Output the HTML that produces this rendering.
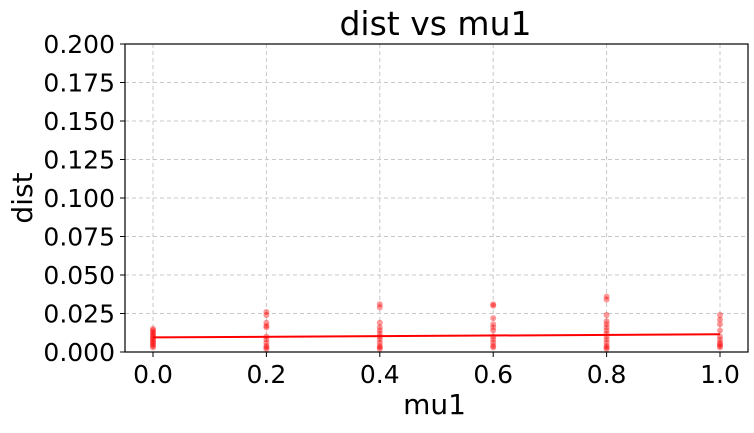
<!DOCTYPE html>
<html><head><meta charset="utf-8"><style>
body{margin:0;background:#fff;font-family:"DejaVu Sans","Liberation Sans",sans-serif}
</style></head><body>
<svg id="c" width="754" height="429" xmlns="http://www.w3.org/2000/svg" style="font-family:'DejaVu Sans','Liberation Sans',sans-serif">
</svg>
<script>
const xTicks=[0,0.2,0.4,0.6,0.8,1.0];
const xTickLabels=["0.0","0.2","0.4","0.6","0.8","1.0"];
const yTicks=[0,0.025,0.05,0.075,0.1,0.125,0.15,0.175,0.2];
const yTickLabels=["0.000","0.025","0.050","0.075","0.100","0.125","0.150","0.175","0.200"];
const groupX=[0,0.2,0.4,0.6,0.8,1.0];
const groupVals=[
 [0.015,0.014,0.013,0.012,0.011,0.010,0.009,0.008,0.007,0.006,0.005,0.004,0.003],
 [0.026,0.024,0.019,0.017,0.016,0.010,0.008,0.006,0.004,0.003,0.002],
 [0.031,0.029,0.019,0.016,0.014,0.012,0.010,0.008,0.006,0.004,0.003,0.002],
 [0.031,0.030,0.022,0.018,0.016,0.014,0.010,0.008,0.006,0.004,0.003],
 [0.036,0.034,0.024,0.020,0.018,0.016,0.014,0.012,0.010,0.008,0.006,0.004,0.003,0.002],
 [0.024,0.021,0.018,0.014,0.010,0.008,0.006,0.005,0.004,0.003]
];
const fitX=[0,1];
const fitY=[0.0095,0.0115];
const L=125,R=748,T=44,B=352;
const sx=v=>153+v*(720-153);
const sy=v=>B-(v/0.2)*(B-T);
const svg=document.getElementById('c');
const NS="http://www.w3.org/2000/svg";
function mk(t,a,txt){const e=document.createElementNS(NS,t);for(const k in a)e.setAttribute(k,a[k]);if(txt!=null)e.textContent=txt;svg.appendChild(e);return e;}
xTicks.forEach((v,i)=>{
 let g=mk('line',{x1:sx(v),x2:sx(v),y1:T,y2:B,stroke:'#c8c8c8','stroke-dasharray':'4,3','stroke-width':1});
 
 mk('line',{x1:sx(v),x2:sx(v),y1:B,y2:B+5,stroke:'#000'});
 let t=mk('text',{x:sx(v),y:B+31,'text-anchor':'middle','font-size':25},xTickLabels[i]);
 
});
yTicks.forEach((v,i)=>{
 if(i>0){let g=mk('line',{x1:L,x2:R,y1:sy(v),y2:sy(v),stroke:'#c8c8c8','stroke-dasharray':'4,3','stroke-width':1});
 }
 mk('line',{x1:L-5,x2:L,y1:sy(v),y2:sy(v),stroke:'#000'});
 let t=mk('text',{x:L-10,y:sy(v)+9,'text-anchor':'end','font-size':25},yTickLabels[i]);
 
});
groupX.forEach((x,gi)=>{groupVals[gi].forEach(v=>{
 let c=mk('circle',{cx:sx(x),cy:sy(v),r:3,fill:'red','fill-opacity':0.4});
 
});});
let ln=mk('line',{x1:sx(fitX[0]),y1:sy(fitY[0]),x2:sx(fitX[1]),y2:sy(fitY[1]),stroke:'red','stroke-width':2});

let fr=mk('rect',{x:L,y:T,width:R-L,height:B-T,fill:'none',stroke:'#000','stroke-width':1.2});

let ti=mk('text',{x:(L+R)/2-1,y:35,'text-anchor':'middle','font-size':33},'dist vs mu1');

let xl=mk('text',{x:(L+R)/2-2,y:414,'text-anchor':'middle','font-size':28},'mu1');

let yl=mk('text',{x:0,y:0,'text-anchor':'middle','font-size':28,transform:`translate(32,${(T+B)/2}) rotate(-90)`},'dist');

</script>
</body></html>
